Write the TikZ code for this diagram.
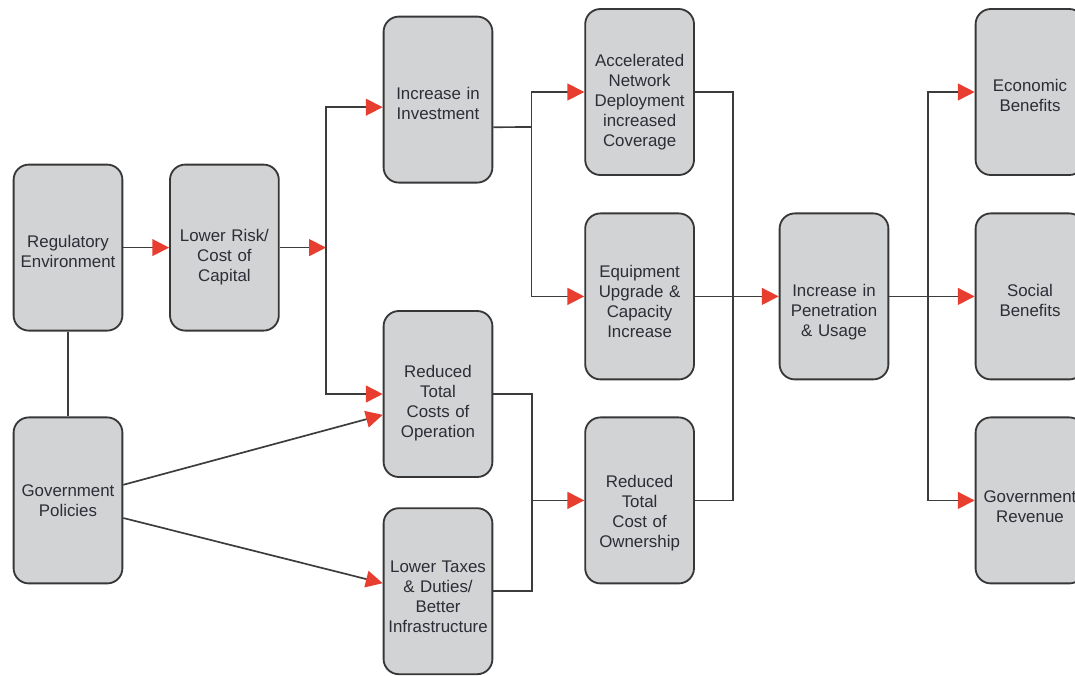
\documentclass[tikz,border=0pt]{standalone}
\usepackage{fontspec}
\setmainfont{Liberation Sans}
\usetikzlibrary{arrows.meta}
\definecolor{boxfill}{RGB}{209,211,212}
\definecolor{boxline}{RGB}{55,55,55}
\definecolor{linegray}{RGB}{60,60,60}
\definecolor{tipred}{RGB}{232,62,48}
\definecolor{boxtext}{RGB}{45,45,55}
\begin{document}
\begin{tikzpicture}[
    box/.style={rectangle, draw=boxline, line width=1.3pt, fill=boxfill, rounded corners=0.38cm, minimum width=2.72cm, minimum height=4.15cm, text width=2.72cm, inner xsep=0pt, text centered, text=boxtext, font=\fontsize{12}{14.2}\selectfont},
    textdown/.style={execute at begin node={\endgraf\vspace*{#1}\noindent}},
    link/.style={draw=linegray, line width=1.2pt},
    arrow/.style={link, -{Triangle[length=0.42cm, width=0.42cm, color=tipred]}}
]
\useasboundingbox (0,0) rectangle (26.875,-16.875);
\clip (0,0) rectangle (26.875,-16.875);

% Causes (colonne gauche)
\node[box, textdown=0cm] (reg) at (1.70,-6.19) {Regulatory\\Environment};
\node[box] (gov) at (1.70,-12.51) {Government\\Policies};
\node[box, textdown=0.3cm] (risk) at (5.61,-6.19) {Lower Risk/\\Cost of\\Capital};

% Effets intermediaires
\node[box, textdown=0cm] (invest) at (10.95,-2.49) {Increase in\\Investment};
\node[box, textdown=0.25cm] (opcost) at (10.95,-9.85) {Reduced\\Total\\Costs of\\Operation};
\node[box, textdown=0.05cm] (taxes) at (10.95,-14.78) {Lower Taxes\\\& Duties/\\Better\\Infrastructure};
\node[box, textdown=0.3cm] (network) at (15.99,-2.30) {Accelerated\\Network\\Deployment\\increased\\Coverage};
\node[box, textdown=0.05cm] (equip) at (15.99,-7.41) {Equipment\\Upgrade \&\\Capacity\\Increase};
\node[box, textdown=0.45cm] (owner) at (15.99,-12.51) {Reduced\\Total\\Cost of\\Ownership};
\node[box, textdown=0.6cm] (pen) at (20.85,-7.41) {Increase in\\Penetration\\\& Usage};

% Benefices (colonne droite)
\node[box, textdown=0cm] (econ) at (25.75,-2.30) {Economic\\Benefits};
\node[box, textdown=0cm] (social) at (25.75,-7.41) {Social\\Benefits};
\node[box, textdown=0.1cm] (govrev) at (25.75,-12.51) {Government\\Revenue};

% Points de jonction
\coordinate (split1) at (8.15,-6.19);
\coordinate (split2) at (13.29,-3.175);
\coordinate (split3) at (13.30,-12.51);
\coordinate (merge1) at (18.33,-7.41);
\coordinate (split4) at (23.20,-7.41);

% Fleches
\draw[arrow] (reg) -- (risk);
\draw[link] (reg) -- (gov);
\draw[arrow] (risk) -- (split1);
\draw[arrow] (split1) |- ([yshift=-0.19cm]invest.west);
\draw[arrow] (split1) |- (opcost.west);
\draw[arrow] ([yshift=0.39cm]gov.east) -- ([yshift=-0.52cm]opcost.west);
\draw[arrow] ([yshift=-0.44cm]gov.east) -- ([yshift=0.2cm]taxes.west);

\draw[link] ([yshift=-0.69cm]invest.east) -- (split2);
\draw[arrow] (split2) |- (network.west);
\draw[arrow] (split2) |- (equip.west);
\draw[link] (opcost.east) -| (split3);
\draw[link] (taxes.east) -| (split3);
\draw[arrow] (split3) -- (owner.west);

\draw[link] (network.east) -| (merge1);
\draw[link] (owner.east) -| (merge1);
\draw[arrow] (equip) -- (pen);

\draw[link] (pen) -- (split4);
\draw[arrow] (split4) -- (social);
\draw[arrow] (split4) |- (econ.west);
\draw[arrow] (split4) |- (govrev.west);

\end{tikzpicture}
\end{document}
